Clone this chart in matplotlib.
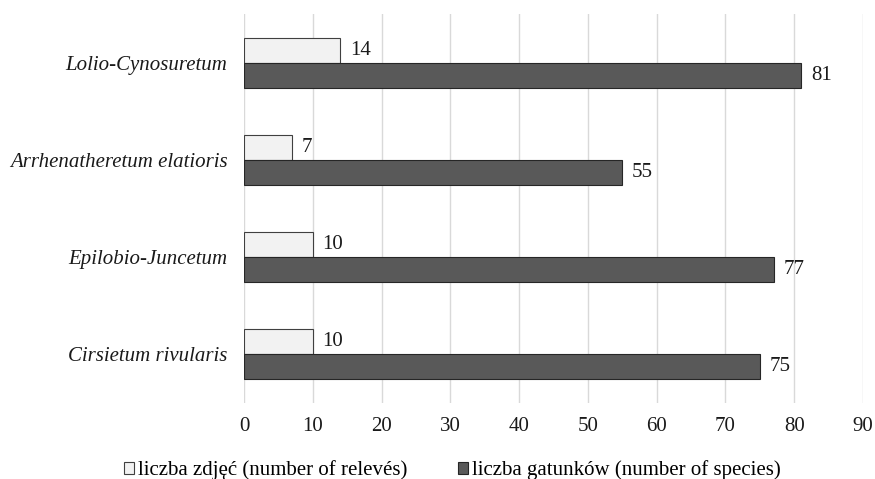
import matplotlib
matplotlib.use("Agg")
import matplotlib.pyplot as plt
import numpy as np

plt.rcParams['font.family'] = ['Liberation Serif', 'DejaVu Serif']

categories = ['Cirsietum rivularis', 'Epilobio-Juncetum',
              'Arrhenatheretum elatioris', 'Lolio-Cynosuretum']
releves = [10, 10, 7, 14]
species = [75, 77, 55, 81]
xticks = [0, 10, 20, 30, 40, 50, 60, 70, 80, 90]

fig = plt.figure(figsize=(8.75, 4.79), dpi=100)
ax = fig.add_axes([0.2789, 0.1587, 0.7074, 0.8121])

y = np.arange(len(categories))
h = 0.257
fs = 15

b1 = ax.barh(y + h / 2, releves, height=h, color='#f2f2f2', edgecolor='#404040',
             linewidth=0.8, label='liczba zdjęć (number of relevés)', zorder=3)
b2 = ax.barh(y - h / 2, species, height=h, color='#595959', edgecolor='#262626',
             linewidth=0.8, label='liczba gatunków (number of species)', zorder=3)

ax.bar_label(b1, padding=7, fontsize=fs, color='#1a1a1a')
ax.bar_label(b2, padding=7, fontsize=fs, color='#1a1a1a')

ax.set_xlim(0, 90)
ax.set_ylim(-0.5, 3.5)
ax.set_xticks(xticks)
ax.set_yticks(y)
ax.set_yticklabels(categories, fontstyle='italic')
ax.tick_params(axis='both', length=0, labelsize=fs, colors='#1a1a1a')
ax.tick_params(axis='y', pad=12)
ax.tick_params(axis='x', pad=10)
ax.grid(axis='x', color='#d9d9d9', linewidth=1, zorder=0)
for s in ax.spines.values():
    s.set_visible(False)

fig.legend(handles=[b1, b2], loc='center', bbox_to_anchor=(0.517, 0.018), ncol=2,
           frameon=False, fontsize=fs, handlelength=0.5, handleheight=0.5,
           handletextpad=0.2, columnspacing=2.4, borderpad=0, borderaxespad=0)

fig.savefig('out.png', dpi=100)
